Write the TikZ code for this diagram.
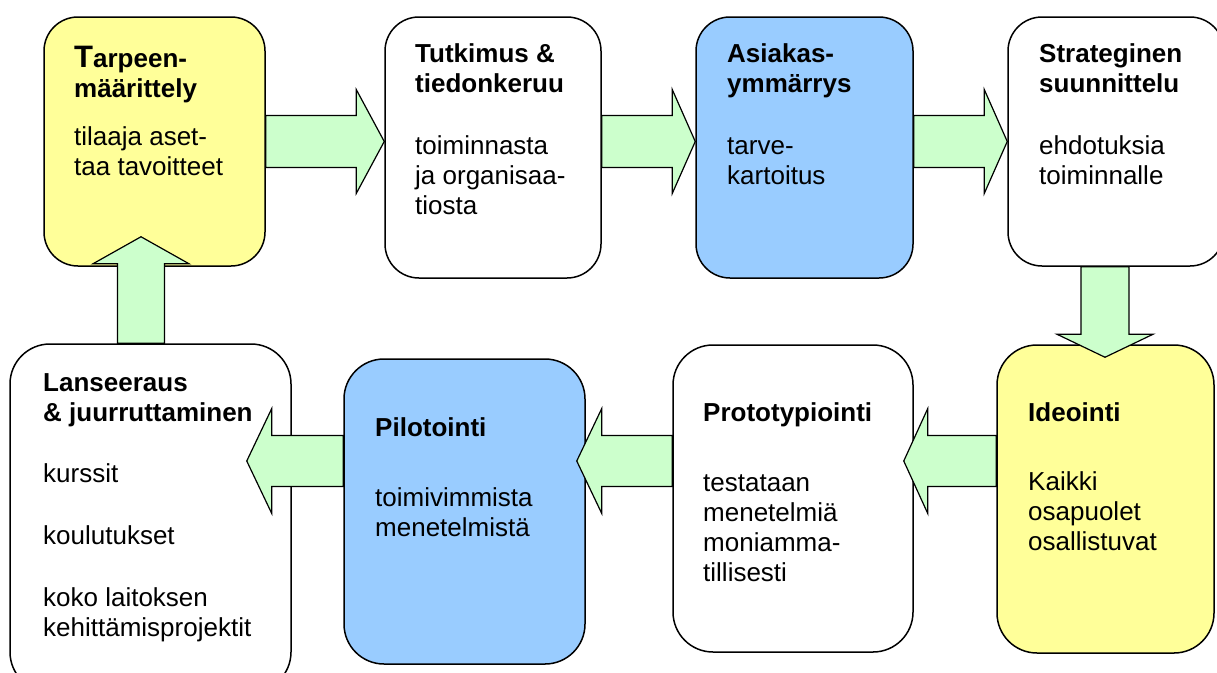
\documentclass[tikz,border=0pt]{standalone}
\usepackage{fontspec}
\setmainfont{Liberation Sans}
\usetikzlibrary{calc}
\definecolor{yel}{HTML}{FFFF99}
\definecolor{blu}{HTML}{99CCFF}
\definecolor{grn}{HTML}{CCFFCC}
\newcommand\tl[1]{\begin{tabular}[t]{@{}l@{}}#1\end{tabular}}
% horizontal block arrow: #1 start, #2 tip, #3 head length, #4 shaft half width, #5 head half width
\newcommand\harrow[5]{%
  \draw[garrow] let \p1=(#1), \p2=(#2), \n1={sign(\x2-\x1)} in
    (\x1,{\y2+#4}) -- ({\x2-(\n1)*#3},{\y2+#4}) -- ({\x2-(\n1)*#3},{\y2+#5})
    -- (\x2,\y2) -- ({\x2-(\n1)*#3},{\y2-#5}) -- ({\x2-(\n1)*#3},{\y2-#4})
    -- (\x1,{\y2-#4}) -- cycle;}
% vertical block arrow
\newcommand\varrow[5]{%
  \draw[garrow] let \p1=(#1), \p2=(#2), \n1={sign(\y2-\y1)} in
    ({\x2+#4},\y1) -- ({\x2+#4},{\y2-(\n1)*#3}) -- ({\x2+#5},{\y2-(\n1)*#3})
    -- (\x2,\y2) -- ({\x2-#5},{\y2-(\n1)*#3}) -- ({\x2-#4},{\y2-(\n1)*#3})
    -- ({\x2-#4},\y1) -- cycle;}
\begin{document}
\begin{tikzpicture}[x=1pt,y=-1pt,
  box/.style={draw, line width=1.5pt, rounded corners=34pt, inner sep=0pt},
  bbox/.style={box, rounded corners=40pt},
  garrow/.style={draw, fill=grn, line width=1.2pt, line join=miter},
  txt/.style={anchor=base west, inner sep=0pt, font=\fontsize{26}{30}\selectfont},
  ttl/.style={txt, font=\fontsize{26}{30}\selectfont\bfseries}]
\useasboundingbox (0,0) rectangle (1217,672);
\fill[white] (0,0) rectangle (1217,672);
% boxes
\node[box, fill=yel, minimum width=221pt, minimum height=249pt] (b1) at (154.5,141.5) {};
\node[box, fill=white, minimum width=216pt, minimum height=261pt] (b2) at (493,147.5) {};
\node[box, fill=blu, minimum width=217pt, minimum height=261pt] (b3) at (804.5,147.5) {};
\node[box, fill=white, minimum width=216pt, minimum height=249pt] (b4) at (1116,141.5) {};
\node[bbox, fill=yel, minimum width=217pt, minimum height=308pt] (b5) at (1105.5,499) {};
\node[bbox, fill=white, minimum width=240pt, minimum height=307pt] (b6) at (793,498.5) {};
\node[bbox, fill=blu, minimum width=241pt, minimum height=305pt] (b7) at (464.5,511.5) {};
\node[bbox, fill=white, minimum width=281pt, minimum height=348pt] (b8) at (150.5,518) {};
% alignment coordinates
\coordinate (rowb) at (0,461);
\coordinate (colr) at (1105,0);
\coordinate (coll) at (141,0);
% arrows
\harrow{b1.east}{b2.west |- b1.east}{28pt}{26pt}{52pt}
\harrow{b2.east |- b1.east}{b3.west |- b1.east}{23pt}{26pt}{52pt}
\harrow{b3.east |- b1.east}{b4.west |- b1.east}{23pt}{26pt}{52pt}
\varrow{colr |- b4.south}{$(colr |- b5.north)+(0,13)$}{23pt}{24pt}{48pt}
\harrow{b5.west |- rowb}{$(b6.east |- rowb)+(-10,0)$}{24pt}{25.5pt}{52.5pt}
\harrow{b6.west |- rowb}{$(b7.east |- rowb)+(-9,0)$}{25pt}{25.5pt}{52.5pt}
\harrow{b7.west |- rowb}{$(b8.east |- rowb)+(-45,0)$}{25pt}{25.5pt}{52.5pt}
\varrow{coll |- b8.north}{$(coll |- b1.south)+(0,-30)$}{27pt}{23.5pt}{48pt}
% texts
\node[ttl] (t1) at (74,67) {\tl{{\fontsize{31}{30}\selectfont T}arpeen-\\määrittely}};
\node[txt] (d1) at (74,145) {\tl{tilaaja aset-\\taa tavoitteet}};
\node[ttl] (t2) at (415,62) {\tl{Tutkimus \&\\tiedonkeruu}};
\node[txt] (d2) at (415,154) {\tl{toiminnasta\\ja organisaa-\\tiosta}};
\node[ttl] (t3) at (727,62) {\tl{Asiakas-\\ymmärrys}};
\node[txt] (d3) at (727,154) {\tl{tarve-\\kartoitus}};
\node[ttl] (t4) at (1039,62) {\tl{Strateginen\\suunnittelu}};
\node[txt] (d4) at (1039,154) {\tl{ehdotuksia\\toiminnalle}};
\node[ttl] (t5) at (1028,421) {Ideointi};
\node[txt] (d5) at (1028,490) {\tl{Kaikki\\osapuolet\\osallistuvat}};
\node[ttl] (t6) at (703,421) {Prototypiointi};
\node[txt] (d6) at (703,491) {\tl{testataan\\menetelmiä\\moniamma-\\tillisesti}};
\node[ttl] (t7) at (375,436) {Pilotointi};
\node[txt] (d7) at (375,506) {\tl{toimivimmista\\menetelmistä}};
\node[ttl] (t8) at (43,391) {\tl{Lanseeraus\\\& juurruttaminen}};
\node[txt] (d8) at (43,482) {\tl{kurssit\\[32pt]koulutukset\\[32pt]koko laitoksen\\kehittämisprojektit}};
\end{tikzpicture}
\end{document}
